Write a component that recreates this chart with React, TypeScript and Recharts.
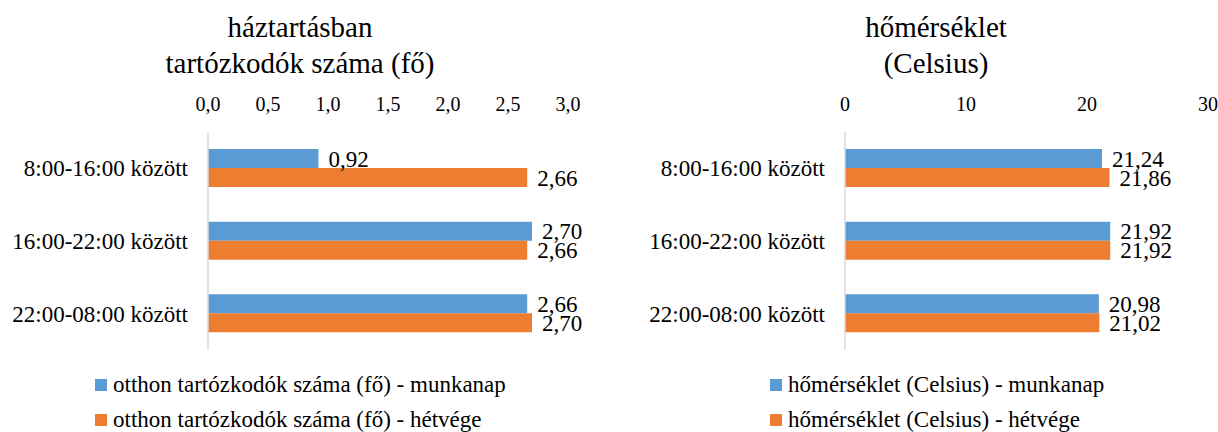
import { BarChart, Bar, XAxis, YAxis, LabelList, Legend } from "recharts";

const categories = ["8:00-16:00 között", "16:00-22:00 között", "22:00-08:00 között"];

const peopleWorkday = [0.92, 2.7, 2.66];
const peopleWeekend = [2.66, 2.66, 2.7];
const peopleTicks = [0, 0.5, 1, 1.5, 2, 2.5, 3];

const tempWorkday = [21.24, 21.92, 20.98];
const tempWeekend = [21.86, 21.92, 21.02];
const tempTicks = [0, 10, 20, 30];

const peopleNames = ["otthon tartózkodók száma (fő) - munkanap", "otthon tartózkodók száma (fő) - hétvége"];
const tempNames = ["hőmérséklet (Celsius) - munkanap", "hőmérséklet (Celsius) - hétvége"];

const BLUE = "#5B9BD5";
const ORANGE = "#ED7D31";
const FONT = "Liberation Serif, DejaVu Serif, serif";

const comma = (v: number, digits: number) => v.toFixed(digits).replace(".", ",");

const LegendBox = ({ names }: { names: string[] }) => (
    <div style={{ height: 70, fontFamily: FONT, fontSize: 23, color: "#000" }}>
        {names.map((n, i) => (
            <div key={n} style={{ height: 35, lineHeight: "35px", display: "flex", alignItems: "center", whiteSpace: "nowrap" }}>
                <span style={{ width: 12, height: 12, background: i === 0 ? BLUE : ORANGE, display: "inline-block", marginRight: 6 }} />
                {n}
            </div>
        ))}
    </div>
);

type PanelProps = {
    a: number[];
    b: number[];
    names: string[];
    ticks: number[];
    tickDigits: number;
    title: string[];
    titleX: number;
    width: number;
    yWidth: number;
    right: number;
    legendLeft: number;
};

const Panel = ({ a, b, names, ticks, tickDigits, title, titleX, width, yWidth, right, legendLeft }: PanelProps) => {
    const data = categories.map((c, i) => ({ name: c, a: a[i], b: b[i] }));
    return (
        <BarChart
            width={width}
            height={432}
            data={data}
            layout="vertical"
            barSize={19}
            barGap={0}
            margin={{ top: 102, right, bottom: 12, left: 0 }}
        >
            <text x={titleX} y={30} textAnchor="middle" dominantBaseline="middle" fontFamily={FONT} fontSize={29} fill="#000">
                {title[0]}
            </text>
            <text x={titleX} y={66} textAnchor="middle" dominantBaseline="middle" fontFamily={FONT} fontSize={29} fill="#000">
                {title[1]}
            </text>
            <XAxis
                type="number"
                orientation="top"
                height={30}
                domain={[ticks[0], ticks[ticks.length - 1]]}
                ticks={ticks}
                interval={0}
                axisLine={false}
                tickLine={false}
                tickSize={0}
                tickMargin={21}
                tickFormatter={(v: number) => comma(v, tickDigits)}
                tick={{ fill: "#000", fontSize: 20, fontFamily: FONT }}
            />
            <YAxis
                type="category"
                dataKey="name"
                width={yWidth}
                axisLine={{ stroke: "#D9D9D9", strokeWidth: 1.5 }}
                tickLine={false}
                tickSize={0}
                tickMargin={20}
                tick={{ fill: "#000", fontSize: 23, fontFamily: FONT }}
            />
            <Legend
                layout="horizontal"
                verticalAlign="bottom"
                align="left"
                wrapperStyle={{ top: 367, left: legendLeft, bottom: "auto", width: "auto" }}
                content={() => <LegendBox names={names} />}
            />
            <Bar dataKey="a" name={names[0]} fill={BLUE} isAnimationActive={false}>
                <LabelList dataKey="a" position="right" offset={10} formatter={(v: any) => comma(Number(v), 2)} fill="#000" fontSize={23} fontFamily={FONT} />
            </Bar>
            <Bar dataKey="b" name={names[1]} fill={ORANGE} isAnimationActive={false}>
                <LabelList dataKey="b" position="right" offset={10} formatter={(v: any) => comma(Number(v), 2)} fill="#000" fontSize={23} fontFamily={FONT} />
            </Bar>
        </BarChart>
    );
};

export default function App() {
    return (
        <div style={{ position: "absolute", left: 0, top: 0, width: 1218, height: 432, background: "#fff", fontFamily: FONT }}>
            <div style={{ position: "absolute", left: 0, top: 0 }}>
                <Panel
                    a={peopleWorkday}
                    b={peopleWeekend}
                    names={peopleNames}
                    ticks={peopleTicks}
                    tickDigits={1}
                    title={["háztartásban", "tartózkodók száma (fő)"]}
                    titleX={300}
                    width={610}
                    yWidth={208}
                    right={42}
                    legendLeft={95}
                />
            </div>
            <div style={{ position: "absolute", left: 610, top: 0 }}>
                <Panel
                    a={tempWorkday}
                    b={tempWeekend}
                    names={tempNames}
                    ticks={tempTicks}
                    tickDigits={0}
                    title={["hőmérséklet", "(Celsius)"]}
                    titleX={326}
                    width={608}
                    yWidth={235}
                    right={10}
                    legendLeft={160}
                />
            </div>
        </div>
    );
}
